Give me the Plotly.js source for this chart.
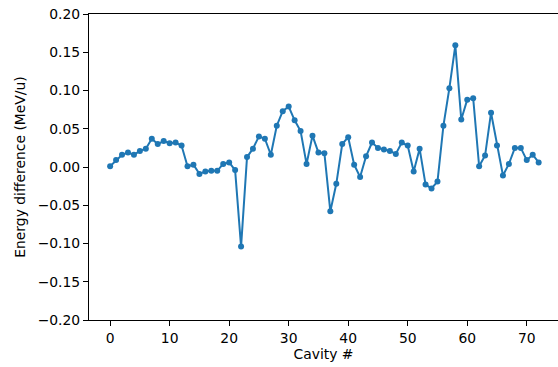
<!DOCTYPE html>
<html>
<head>
<meta charset="utf-8">
<script src="https://cdn.plot.ly/plotly-3.0.1.min.js"></script>
<style>html,body{margin:0;padding:0;background:#fff;}#chart{width:558px;height:367px;}</style>
</head>
<body>
<div id="chart"></div>
<script>
const cavity = Array.from({length: 73}, (_, i) => i);
const energyDiff = [
  0.001, 0.009, 0.016, 0.019, 0.016, 0.021, 0.024, 0.037, 0.030, 0.034,
  0.031, 0.032, 0.028, 0.001, 0.003, -0.009, -0.006, -0.005, -0.005, 0.004,
  0.006, -0.004, -0.104, 0.013, 0.024, 0.040, 0.037, 0.016, 0.054, 0.073,
  0.079, 0.061, 0.047, 0.004, 0.041, 0.019, 0.018, -0.058, -0.022, 0.030,
  0.039, 0.003, -0.013, 0.014, 0.032, 0.025, 0.023, 0.021, 0.017, 0.032,
  0.028, -0.006, 0.024, -0.023, -0.028, -0.019, 0.054, 0.103, 0.159, 0.062,
  0.088, 0.090, 0.001, 0.015, 0.071, 0.028, -0.011, 0.004, 0.025, 0.025,
  0.009, 0.016, 0.006
];
const xTicks = [0, 10, 20, 30, 40, 50, 60, 70];
const yTicks = [-0.20, -0.15, -0.10, -0.05, 0.00, 0.05, 0.10, 0.15, 0.20];

const font = {family: 'DejaVu Sans, sans-serif', size: 13.9, color: '#000'};
Plotly.newPlot('chart', [{
  x: cavity, y: energyDiff, type: 'scatter', mode: 'lines+markers',
  line: {color: '#1f77b4', width: 2},
  marker: {color: '#1f77b4', size: 6},
  cliponaxis: false
}], {
  width: 558, height: 367,
  margin: {l: 89, r: 0, t: 14, b: 47},
  paper_bgcolor: '#fff', plot_bgcolor: '#fff',
  font: font,
  showlegend: false,
  xaxis: {
    range: [-3.55, 75.25], tickvals: xTicks, ticktext: xTicks.map(String),
    showgrid: false, zeroline: false, showline: true, mirror: true,
    linecolor: '#000', linewidth: 1, ticks: 'outside', ticklen: 5, tickcolor: '#000',
    title: {text: 'Cavity #', font: font, standoff: 4}
  },
  yaxis: {
    range: [-0.2, 0.2], tickvals: yTicks, tickformat: '.2f',
    showgrid: false, zeroline: false, showline: true,
    linecolor: '#000', linewidth: 1, ticks: 'outside', ticklen: 5, tickcolor: '#000',
    title: {text: 'Energy difference (MeV/u)', font: font, standoff: 8}
  }
}, {displayModeBar: false, staticPlot: true});
</script>
</body>
</html>
